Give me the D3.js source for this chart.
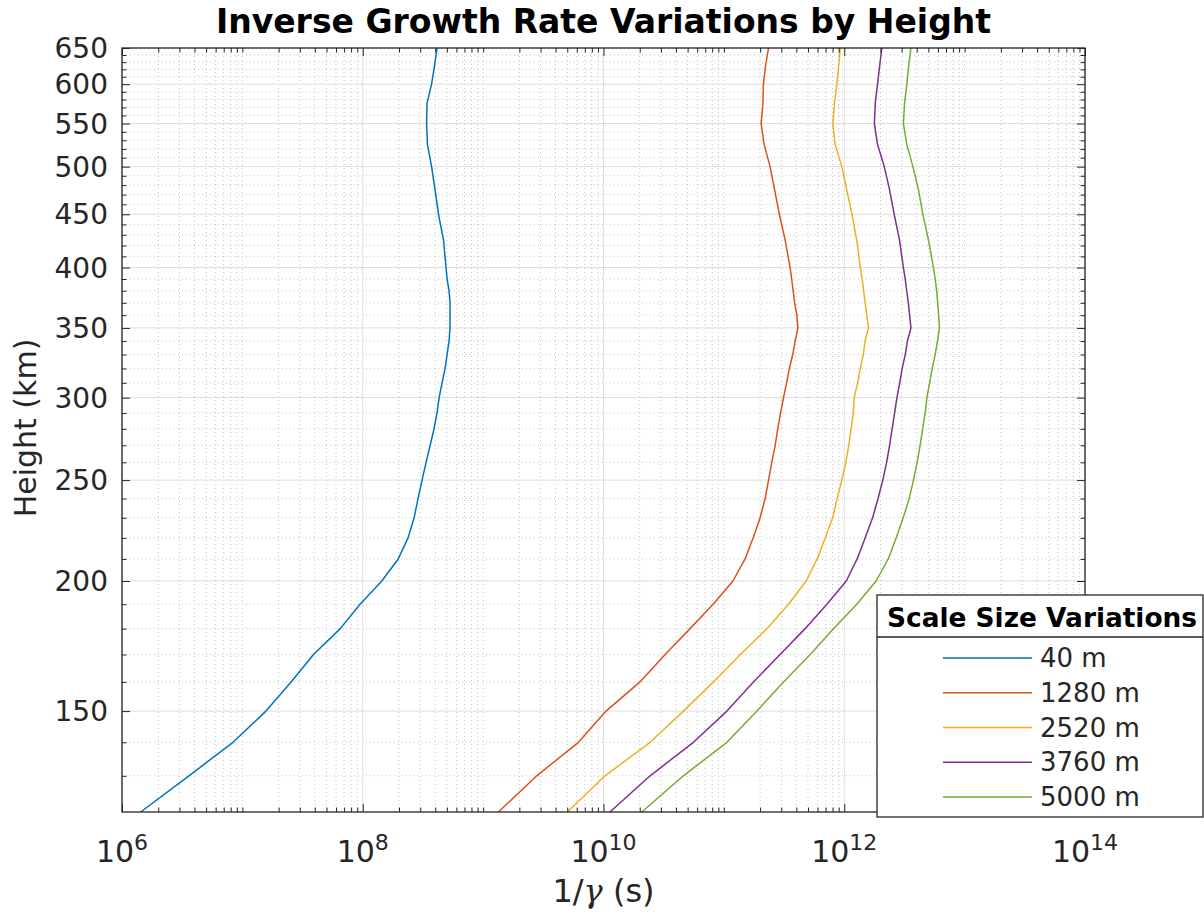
<!DOCTYPE html>
<html>
<head>
<meta charset="utf-8">
<script src="https://cdn.jsdelivr.net/npm/d3@7"></script>
<style>
  body { margin: 0; background: #fff; }
  text { font-family: "DejaVu Sans", sans-serif; }
</style>
</head>
<body>
<svg id="chart" width="1204" height="920"></svg>
<script>
// Heights (km) at which the inverse growth rate was evaluated
const heights = [120,130,140,150,160,170,180,190,200,210,220,230,240,250,260,270,280,290,300,
                 310,320,330,340,350,360,370,380,390,400,425,450,475,500,525,550,575,600,625,650];

// 1/gamma (s) for each scale size
const scale40 = [1.43e6,3.60e6,8.36e6,1.57e7,2.54e7,3.90e7,6.50e7,9.50e7,1.44e8,1.97e8,2.38e8,2.67e8,2.88e8,3.11e8,
                 3.36e8,3.63e8,3.91e8,4.14e8,4.31e8,4.56e8,4.83e8,5.02e8,5.21e8,5.31e8,5.31e8,5.31e8,5.21e8,5.02e8,
                 4.92e8,4.69e8,4.26e8,3.99e8,3.73e8,3.45e8,3.39e8,3.42e8,3.73e8,3.95e8,4.14e8];
const scale1280 = [1.34e9,2.79e9,6.19e9,1.05e10,2.01e10,3.25e10,5.24e10,8.14e10,1.19e11,1.50e11,1.75e11,2.00e11,2.20e11,
                   2.35e11,2.50e11,2.67e11,2.80e11,2.96e11,3.13e11,3.32e11,3.50e11,3.73e11,3.91e11,4.12e11,4.04e11,
                   3.87e11,3.76e11,3.66e11,3.55e11,3.23e11,2.89e11,2.64e11,2.42e11,2.16e11,2.04e11,2.11e11,2.13e11,
                   2.22e11,2.35e11];
const scale2520 = [5.01e9,1.03e10,2.44e10,4.61e10,8.19e10,1.37e11,2.28e11,3.44e11,4.83e11,5.96e11,6.94e11,8.01e11,8.73e11,
                   9.55e11,1.03e12,1.09e12,1.14e12,1.19e12,1.21e12,1.29e12,1.36e12,1.44e12,1.49e12,1.59e12,1.54e12,
                   1.49e12,1.45e12,1.41e12,1.36e12,1.27e12,1.16e12,1.05e12,9.55e11,8.40e11,8.04e11,8.29e11,8.68e11,
                   8.99e11,9.25e11];
const scale3760 = [1.13e10,2.44e10,5.58e10,1.06e11,1.76e11,2.93e11,4.73e11,7.17e11,1.04e12,1.28e12,1.49e12,1.72e12,1.91e12,
                   2.09e12,2.25e12,2.38e12,2.50e12,2.62e12,2.74e12,2.89e12,3.03e12,3.21e12,3.35e12,3.58e12,3.49e12,
                   3.41e12,3.30e12,3.21e12,3.10e12,2.88e12,2.60e12,2.38e12,2.15e12,1.89e12,1.78e12,1.81e12,1.89e12,
                   1.97e12,2.05e12];
const scale5000 = [2.08e10,4.61e10,1.06e11,1.88e11,3.13e11,5.21e11,8.14e11,1.27e12,1.84e12,2.32e12,2.70e12,3.09e12,3.46e12,
                   3.76e12,4.03e12,4.27e12,4.48e12,4.70e12,4.86e12,5.12e12,5.38e12,5.69e12,5.95e12,6.18e12,6.09e12,
                   5.97e12,5.86e12,5.69e12,5.51e12,5.01e12,4.50e12,4.14e12,3.72e12,3.31e12,3.10e12,3.17e12,3.31e12,
                   3.43e12,3.58e12];

const seriesLabels = ["40 m", "1280 m", "2520 m", "3760 m", "5000 m"];
const seriesValues = [scale40, scale1280, scale2520, scale3760, scale5000];
const seriesColors = ["#0072BD", "#D95319", "#EDB120", "#7E2F8E", "#77AC30"];

const xTickExponents = [6, 8, 10, 12, 14];
const yTickValues = [150, 200, 250, 300, 350, 400, 450, 500, 550, 600, 650];

const titleText = "Inverse Growth Rate Variations by Height";
const legendTitle = "Scale Size Variations";

// ---- layout ----
const L = 122, R = 1085, T = 48, B = 812;
const svg = d3.select("#chart");

const x = d3.scaleLog().domain([1e6, 1e14]).range([L, R]);
const y = d3.scaleLog().domain([120, 650]).range([B, T]);

const xMajor = xTickExponents.map(e => Math.pow(10, e));
const xMinor = [];
for (let e = 6; e < 14; e++) {
  for (let m = 1; m < 10; m++) {
    if (m === 1 && e % 2 === 0) continue;
    xMinor.push(m * Math.pow(10, e));
  }
}
const yMinor = d3.range(130, 650, 10).filter(v => !yTickValues.includes(v));

// ---- grid ----
const grid = svg.append("g");
grid.selectAll("line.xmin").data(xMinor).join("line")
  .attr("x1", d => x(d)).attr("x2", d => x(d)).attr("y1", T).attr("y2", B)
  .attr("stroke", "#c4c4c4").attr("stroke-width", 1).attr("stroke-dasharray", "1,3");
grid.selectAll("line.ymin").data(yMinor).join("line")
  .attr("y1", d => y(d)).attr("y2", d => y(d)).attr("x1", L).attr("x2", R)
  .attr("stroke", "#c4c4c4").attr("stroke-width", 1).attr("stroke-dasharray", "1,3");
grid.selectAll("line.xmaj").data(xMajor).join("line")
  .attr("x1", d => x(d)).attr("x2", d => x(d)).attr("y1", T).attr("y2", B)
  .attr("stroke", "#dcdcdc").attr("stroke-width", 1);
grid.selectAll("line.ymaj").data(yTickValues).join("line")
  .attr("y1", d => y(d)).attr("y2", d => y(d)).attr("x1", L).attr("x2", R)
  .attr("stroke", "#dcdcdc").attr("stroke-width", 1);

// ---- curves ----
const line = d3.line().x(d => x(d[0])).y(d => y(d[1]));
const plot = svg.append("g");
seriesValues.forEach((vals, i) => {
  const pts = vals.map((v, j) => [v, heights[j]]);
  plot.append("path").datum(pts)
    .attr("fill", "none").attr("stroke", seriesColors[i]).attr("stroke-width", 1.5)
    .attr("stroke-linejoin", "round").attr("d", line);
});

// ---- axes (ticks pointing inward on all four sides) ----
const axisColor = "#262626";
function styleAxis(g) {
  g.select(".domain").remove();
  g.selectAll(".tick line").attr("stroke", axisColor).attr("stroke-width", 1);
  g.selectAll(".tick text").remove();
}
svg.append("g").attr("transform", `translate(0,${B})`)
  .call(d3.axisBottom(x).tickValues(xMajor).tickSize(-8).tickFormat("")).call(styleAxis);
svg.append("g").attr("transform", `translate(0,${B})`)
  .call(d3.axisBottom(x).tickValues(xMinor).tickSize(-4.5).tickFormat("")).call(styleAxis);
svg.append("g").attr("transform", `translate(0,${T})`)
  .call(d3.axisTop(x).tickValues(xMajor).tickSize(-8).tickFormat("")).call(styleAxis);
svg.append("g").attr("transform", `translate(0,${T})`)
  .call(d3.axisTop(x).tickValues(xMinor).tickSize(-4.5).tickFormat("")).call(styleAxis);
svg.append("g").attr("transform", `translate(${L},0)`)
  .call(d3.axisLeft(y).tickValues(yTickValues).tickSize(-8).tickFormat("")).call(styleAxis);
svg.append("g").attr("transform", `translate(${L},0)`)
  .call(d3.axisLeft(y).tickValues(yMinor).tickSize(-4.5).tickFormat("")).call(styleAxis);
svg.append("g").attr("transform", `translate(${R},0)`)
  .call(d3.axisRight(y).tickValues(yTickValues).tickSize(-8).tickFormat("")).call(styleAxis);
svg.append("g").attr("transform", `translate(${R},0)`)
  .call(d3.axisRight(y).tickValues(yMinor).tickSize(-4.5).tickFormat("")).call(styleAxis);

svg.append("rect").attr("x", L).attr("y", T).attr("width", R - L).attr("height", B - T)
  .attr("fill", "none").attr("stroke", axisColor).attr("stroke-width", 1.3);

// tick labels
svg.append("g").selectAll("text").data(yTickValues).join("text")
  .attr("x", 108).attr("y", d => y(d) + 10)
  .attr("text-anchor", "end").attr("font-size", 28).attr("fill", axisColor)
  .text(d => d);

const xl = svg.append("g").selectAll("text").data(xTickExponents).join("text")
  .attr("x", d => x(Math.pow(10, d))).attr("y", 862)
  .attr("text-anchor", "middle").attr("fill", axisColor);
xl.append("tspan").attr("font-size", 30).text("10");
xl.append("tspan").attr("font-size", 22).attr("dy", -12).text(d => d);

// axis titles
const xt = svg.append("text").attr("x", (L + R) / 2).attr("y", 902)
  .attr("text-anchor", "middle").attr("font-size", 32).attr("fill", axisColor);
xt.append("tspan").text("1/");
xt.append("tspan").attr("font-family", "DejaVu Serif, serif").attr("font-style", "italic").text("γ");
xt.append("tspan").text(" (s)");

svg.append("text").attr("transform", "translate(36,428) rotate(-90)")
  .attr("text-anchor", "middle").attr("font-size", 30).attr("fill", axisColor)
  .text("Height (km)");

// chart title
svg.append("text").attr("x", (L + R) / 2).attr("y", 33)
  .attr("text-anchor", "middle").attr("font-size", 33).attr("font-weight", "bold").attr("fill", "#000")
  .text(titleText);

// ---- legend ----
const lg = svg.append("g");
const lgX = 877, lgY = 595, lgW = 326, lgH = 222, lgSep = 637;
lg.append("rect").attr("x", lgX).attr("y", lgY).attr("width", lgW).attr("height", lgH)
  .attr("fill", "#fff").attr("stroke", axisColor).attr("stroke-width", 1.3);
lg.append("line").attr("x1", lgX).attr("x2", lgX + lgW).attr("y1", lgSep).attr("y2", lgSep)
  .attr("stroke", axisColor).attr("stroke-width", 1.3);
lg.append("text").attr("x", 887).attr("y", 627)
  .attr("font-size", 26.4).attr("font-weight", "bold").attr("fill", "#000").text(legendTitle);
const rowY = d3.scaleLinear().domain([0, 4]).range([658, 797]);
seriesLabels.forEach((lab, i) => {
  lg.append("line").attr("x1", 943).attr("x2", 1032).attr("y1", rowY(i)).attr("y2", rowY(i))
    .attr("stroke", seriesColors[i]).attr("stroke-width", 1.5);
  lg.append("text").attr("x", 1040).attr("y", rowY(i) + 9)
    .attr("font-size", 26).attr("fill", axisColor).text(lab);
});
</script>
</body>
</html>
